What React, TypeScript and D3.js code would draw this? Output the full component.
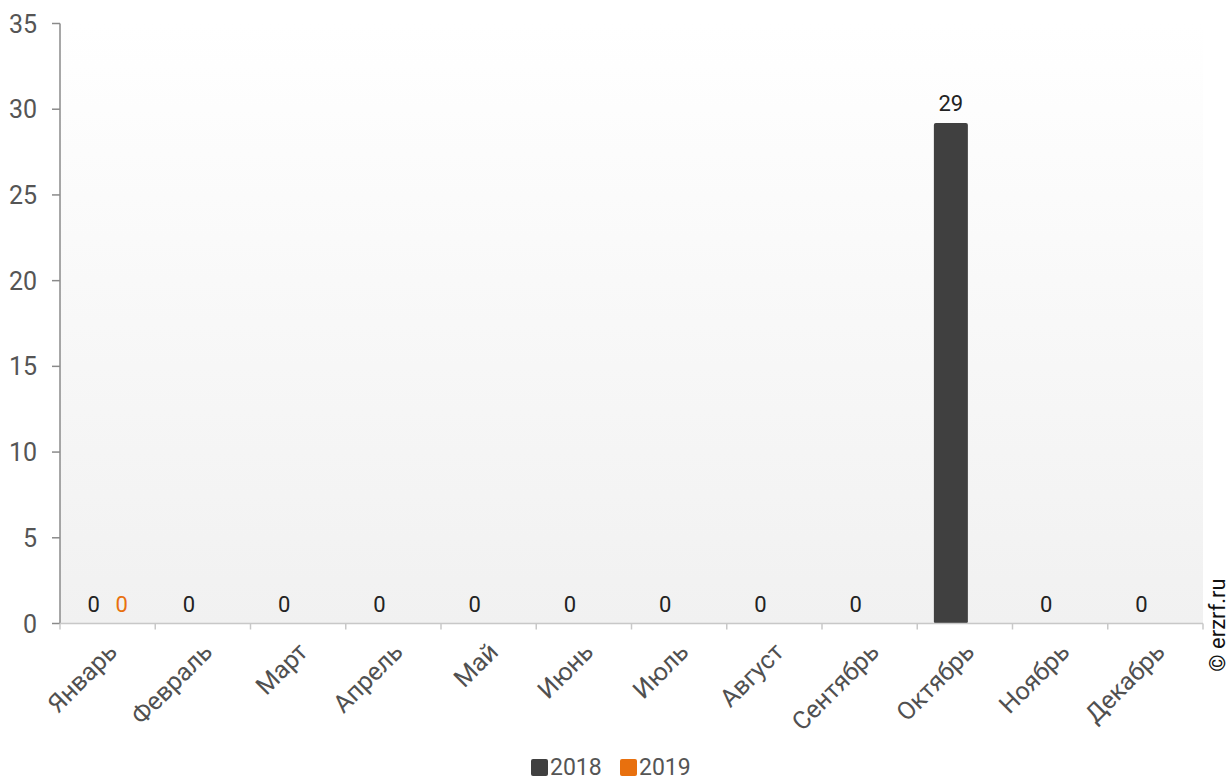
import React from "react";
import * as d3 from "d3";

const months = ["Январь","Февраль","Март","Апрель","Май","Июнь","Июль","Август","Сентябрь","Октябрь","Ноябрь","Декабрь"];
const series2018: (number | null)[] = [0,0,0,0,0,0,0,0,0,29.2,0,0];
const series2019: (number | null)[] = [0,null,null,null,null,null,null,null,null,null,null,null];
const yTicks = [0,5,10,15,20,25,30,35];
const seriesNames = ["2018","2019"];
const seriesColors = ["#404040","#e8700e"];

export default function App() {
  const W = 1230, H = 781;
  const left = 60, right = 1203, top = 23.5, bottom = 623.5;
  const x = d3.scaleBand().domain(months).range([left, right]);
  const y = d3.scaleLinear().domain([0, 35]).range([bottom, top]);
  const fmt = d3.format(".0f");
  const barW = 34;
  const offsets = [-14, 14];
  const font = "Roboto, 'Noto Sans', sans-serif";
  const all = [series2018, series2019];
  return (
    <svg width={W} height={H} style={{ position: "absolute", left: 0, top: 0, fontFamily: font }}>
      <defs>
        <linearGradient id="bg" x1="0" y1="0" x2="0" y2="1">
          <stop offset="0%" stopColor="#ffffff" />
          <stop offset="100%" stopColor="#f1f1f1" />
        </linearGradient>
      </defs>
      <rect x={left} y={top} width={right - left} height={bottom - top} fill="url(#bg)" />
      {all.map((s, si) =>
        s.map((v, i) =>
          v === null || v === 0 ? null : (
            <rect key={`b${si}-${i}`} x={(x(months[i]) as number) + x.bandwidth() / 2 + offsets[si] - barW / 2}
              y={y(v)} width={barW} height={y(0) - y(v)} rx={2} fill={seriesColors[si]} />
          )
        )
      )}
      {all.map((s, si) =>
        s.map((v, i) =>
          v === null ? null : (
            <text key={`l${si}-${i}`} x={(x(months[i]) as number) + x.bandwidth() / 2 + offsets[si]}
              y={y(v) - 12} textAnchor="middle" fontSize={22}
              fill={si === 0 ? "#222" : seriesColors[1]}>{fmt(v)}</text>
          )
        )
      )}
      <line x1={left} x2={left} y1={top} y2={bottom} stroke="#8a8a8a" strokeWidth={1.5} />
      {yTicks.map(t => (
        <g key={`yt${t}`}>
          <line x1={left - 8} x2={left} y1={y(t)} y2={y(t)} stroke="#8a8a8a" strokeWidth={1.5} />
          <text x={37} y={y(t) + 9} textAnchor="end" fontSize={25} fill="#555">{t}</text>
        </g>
      ))}
      <line x1={left} x2={right} y1={bottom} y2={bottom} stroke="#c8c8c8" strokeWidth={1.5} />
      {d3.range(months.length + 1).map(i => {
        const xx = left + i * x.step();
        return <line key={`xt${i}`} x1={xx} x2={xx} y1={bottom} y2={bottom + 6} stroke="#c8c8c8" strokeWidth={1.5} />;
      })}
      {months.map(m => {
        const cx = (x(m) as number) + x.bandwidth() / 2 + 11;
        return (
          <text key={`xl${m}`} transform={`translate(${cx},${bottom + 30}) rotate(-45)`}
            textAnchor="end" fontSize={25} fill="#505050">{m}</text>
        );
      })}
      {seriesNames.map((n, i) => (
        <g key={`lg${n}`} transform={`translate(${531 + i * 89},759)`}>
          <rect x={0} y={0} width={17} height={17} rx={2} fill={seriesColors[i]} />
          <text x={19} y={16} fontSize={23} fill="#555">{n}</text>
        </g>
      ))}
      <text transform="translate(1225,625) rotate(-90)" textAnchor="middle" fontSize={22} fill="#111">© erzrf.ru</text>
    </svg>
  );
}
